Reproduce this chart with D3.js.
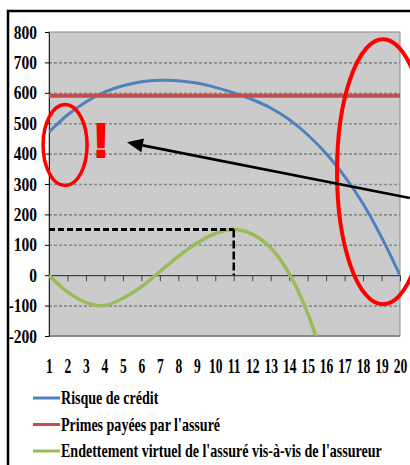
<!DOCTYPE html>
<html>
<head>
<meta charset="utf-8">
<script src="https://cdn.jsdelivr.net/npm/d3@7"></script>
<style>
  body { margin: 0; background: #fff; }
  svg text { font-family: "Liberation Serif", "Times New Roman", serif; font-weight: bold; fill: #000; }
</style>
</head>
<body>
<div id="chart"></div>
<script>
/* Chart data */
const categories = [1, 2, 3, 4, 5, 6, 7, 8, 9, 10, 11, 12, 13, 14, 15, 16, 17, 18, 19, 20];
const risque = [471, 527, 570, 602, 623, 636, 641, 640, 632, 618, 600, 578, 550, 512, 462, 400, 325, 235, 125, 0];
const primes = [590, 590, 590, 590, 590, 590, 590, 590, 590, 590, 590, 590, 590, 590, 590, 590, 590, 590, 590, 590];
const endettement = [0, -55, -90, -100, -76, -38, 12, 62, 105, 137, 150, 135, 90, 5, -125, -310]; // runs off the bottom after 15
const yTicks = [-200, -100, 0, 100, 200, 300, 400, 500, 600, 700, 800];
const gridValues = [-100, 100, 200, 300, 400, 500, 600, 700];
const seriesNames = ["Risque de crédit", "Primes payées par l'assuré", "Endettement virtuel de l'assuré vis-à-vis de l'assureur"];
const seriesColors = ["#4f81bd", "#c0504d", "#9bbb59"];
const peak = {cat: 11, value: 150}; // dashed guide to the top of the green curve

const width = 410,
      height = 465,
      margin = ({ top: 32, right: 10, bottom: 129, left: 49 });
const plotW = width - margin.left - margin.right,
      plotH = height - margin.top - margin.bottom;

let svg = d3.select("#chart")
    .append("svg")
    .attr("width", width)
    .attr("height", height);

/* frame round the whole picture (runs off right and bottom) */
svg.append("rect")
    .attr("x", 8).attr("y", 11)
    .attr("width", 440).attr("height", 480)
    .attr("fill", "none")
    .attr("stroke", "#000")
    .attr("stroke-width", 2.5);

let x = d3.scalePoint()
    .domain(categories)
    .range([margin.left, width - margin.right]);

let y = d3.scaleLinear()
    .domain([-200, 800])
    .range([height - margin.bottom, margin.top]);

/* plot area */
svg.append("rect")
    .attr("x", margin.left).attr("y", margin.top)
    .attr("width", plotW).attr("height", plotH)
    .attr("fill", "#cbcbcb")
    .attr("stroke", "#8c8c8c");

svg.append("line")
    .attr("x1", margin.left).attr("x2", width - margin.right)
    .attr("y1", y(-200)).attr("y2", y(-200))
    .attr("stroke", "#888")
    .attr("stroke-width", 2);

/* dashed gridlines */
svg.append("g")
    .attr("transform", `translate(${margin.left},0)`)
    .call(d3.axisLeft(y).tickValues(gridValues).tickSize(-plotW).tickFormat(""))
    .call(g => g.select(".domain").remove())
    .selectAll("line")
    .attr("stroke", "#8a8a8a")
    .attr("stroke-width", 1.6)
    .attr("stroke-dasharray", "3,2");

/* y axis */
svg.append("g")
    .attr("transform", `translate(${margin.left},0)`)
    .call(d3.axisLeft(y).tickValues(yTicks).tickSize(4).tickSizeOuter(0).tickFormat(d => String(d)))
    .call(g => g.select(".domain").attr("stroke", "#222"))
    .call(g => g.selectAll("text")
        .attr("x", 0)
        .attr("dy", "0.34em")
        .attr("transform", "translate(-12,0) scale(0.86,1)")
        .style("font-size", "18px"));

/* x axis line at 0 with ticks below */
svg.append("g")
    .attr("transform", `translate(0,${y(0)})`)
    .call(d3.axisBottom(x).tickSize(6).tickSizeOuter(0).tickFormat(""))
    .call(g => g.select(".domain").attr("stroke", "#222"))
    .selectAll("line").attr("stroke", "#444");

/* category labels below the plot */
svg.append("g")
    .attr("transform", `translate(0,373)`)
    .call(d3.axisBottom(x).tickSize(0))
    .call(g => g.select(".domain").remove())
    .call(g => g.selectAll("text")
        .attr("y", 0)
        .attr("dy", null)
        .attr("transform", "scale(0.66,1)")
        .style("font-size", "20.5px"));

/* series */
svg.append("clipPath").attr("id", "plot-clip")
    .append("rect")
    .attr("x", margin.left).attr("y", margin.top)
    .attr("width", plotW).attr("height", plotH);

let line = d3.line()
    .x((d, i) => x(categories[i]))
    .y(d => y(d))
    .curve(d3.curveCatmullRom);

let series = [risque, primes, endettement];
let widths = [3, 4, 3.5];

svg.append("g")
    .attr("clip-path", "url(#plot-clip)")
    .selectAll("path")
    .data(series)
    .join("path")
    .attr("d", d => line(d))
    .attr("fill", "none")
    .attr("stroke", (d, i) => seriesColors[i])
    .attr("stroke-width", (d, i) => widths[i])
    .attr("stroke-linejoin", "round");

/* dashed guide to the green peak */
svg.append("path")
    .attr("d", `M${x(categories[0])},${y(peak.value)}H${x(peak.cat)}`)
    .attr("stroke", "#000")
    .attr("stroke-width", 3)
    .attr("stroke-dasharray", "6,3")
    .attr("fill", "none");

svg.append("path")
    .attr("d", `M${x(peak.cat)},${y(peak.value)}V${y(0)}`)
    .attr("stroke", "#000")
    .attr("stroke-width", 2.5)
    .attr("stroke-dasharray", "8,3")
    .attr("fill", "none");

/* annotations drawn over the chart (positions in data units) */
svg.append("ellipse")
    .attr("cx", x(1) + 0.87 * x.step()).attr("cy", y(428))
    .attr("rx", 22).attr("ry", 40.5)
    .attr("fill", "none")
    .attr("stroke", "#ff0000")
    .attr("stroke-width", 3.5);

svg.append("ellipse")
    .attr("cx", x(19) + 0.08 * x.step()).attr("cy", y(340))
    .attr("rx", 46).attr("ry", 132.5)
    .attr("fill", "none")
    .attr("stroke", "#ff0000")
    .attr("stroke-width", 4);

svg.append("text")
    .attr("x", x(3) + 0.82 * x.step())
    .attr("y", y(388))
    .attr("text-anchor", "middle")
    .style("font-family", "'Liberation Sans', Arial, sans-serif")
    .style("font-weight", "900")
    .style("font-size", "48px")
    .style("fill", "#ff0000")
    .style("stroke", "#ff0000")
    .style("stroke-width", 2)
    .text("!");

// arrow from the right edge back to the "!"
let tip = [x(5) + 0.22 * x.step(), y(437)],
    tail = [x(20) + 0.53 * x.step(), y(254)];
let dx = tail[0] - tip[0], dy = tail[1] - tip[1], len = Math.hypot(dx, dy);
let ux = dx / len, uy = dy / len, headL = 16, headW = 7;
let base = [tip[0] + ux * headL, tip[1] + uy * headL];

svg.append("line")
    .attr("x1", base[0]).attr("y1", base[1])
    .attr("x2", tail[0]).attr("y2", tail[1])
    .attr("stroke", "#000")
    .attr("stroke-width", 2.7);

svg.append("path")
    .attr("d", `M${tip[0]},${tip[1]}L${base[0] - uy * headW},${base[1] + ux * headW}L${base[0] + uy * headW},${base[1] - ux * headW}Z`)
    .attr("fill", "#000");

/* legend */
let legend = svg.append("g")
    .selectAll("g")
    .data(seriesNames)
    .join("g")
    .attr("transform", (d, i) => `translate(33,${398 + i * 26.5})`);

legend.append("line")
    .attr("x1", 0).attr("x2", 27)
    .attr("stroke", (d, i) => seriesColors[i])
    .attr("stroke-width", 3);

legend.append("text")
    .attr("transform", "translate(28,6) scale(0.78,1.02)")
    .style("font-size", "18px")
    .text(d => d);
</script>
</body>
</html>
